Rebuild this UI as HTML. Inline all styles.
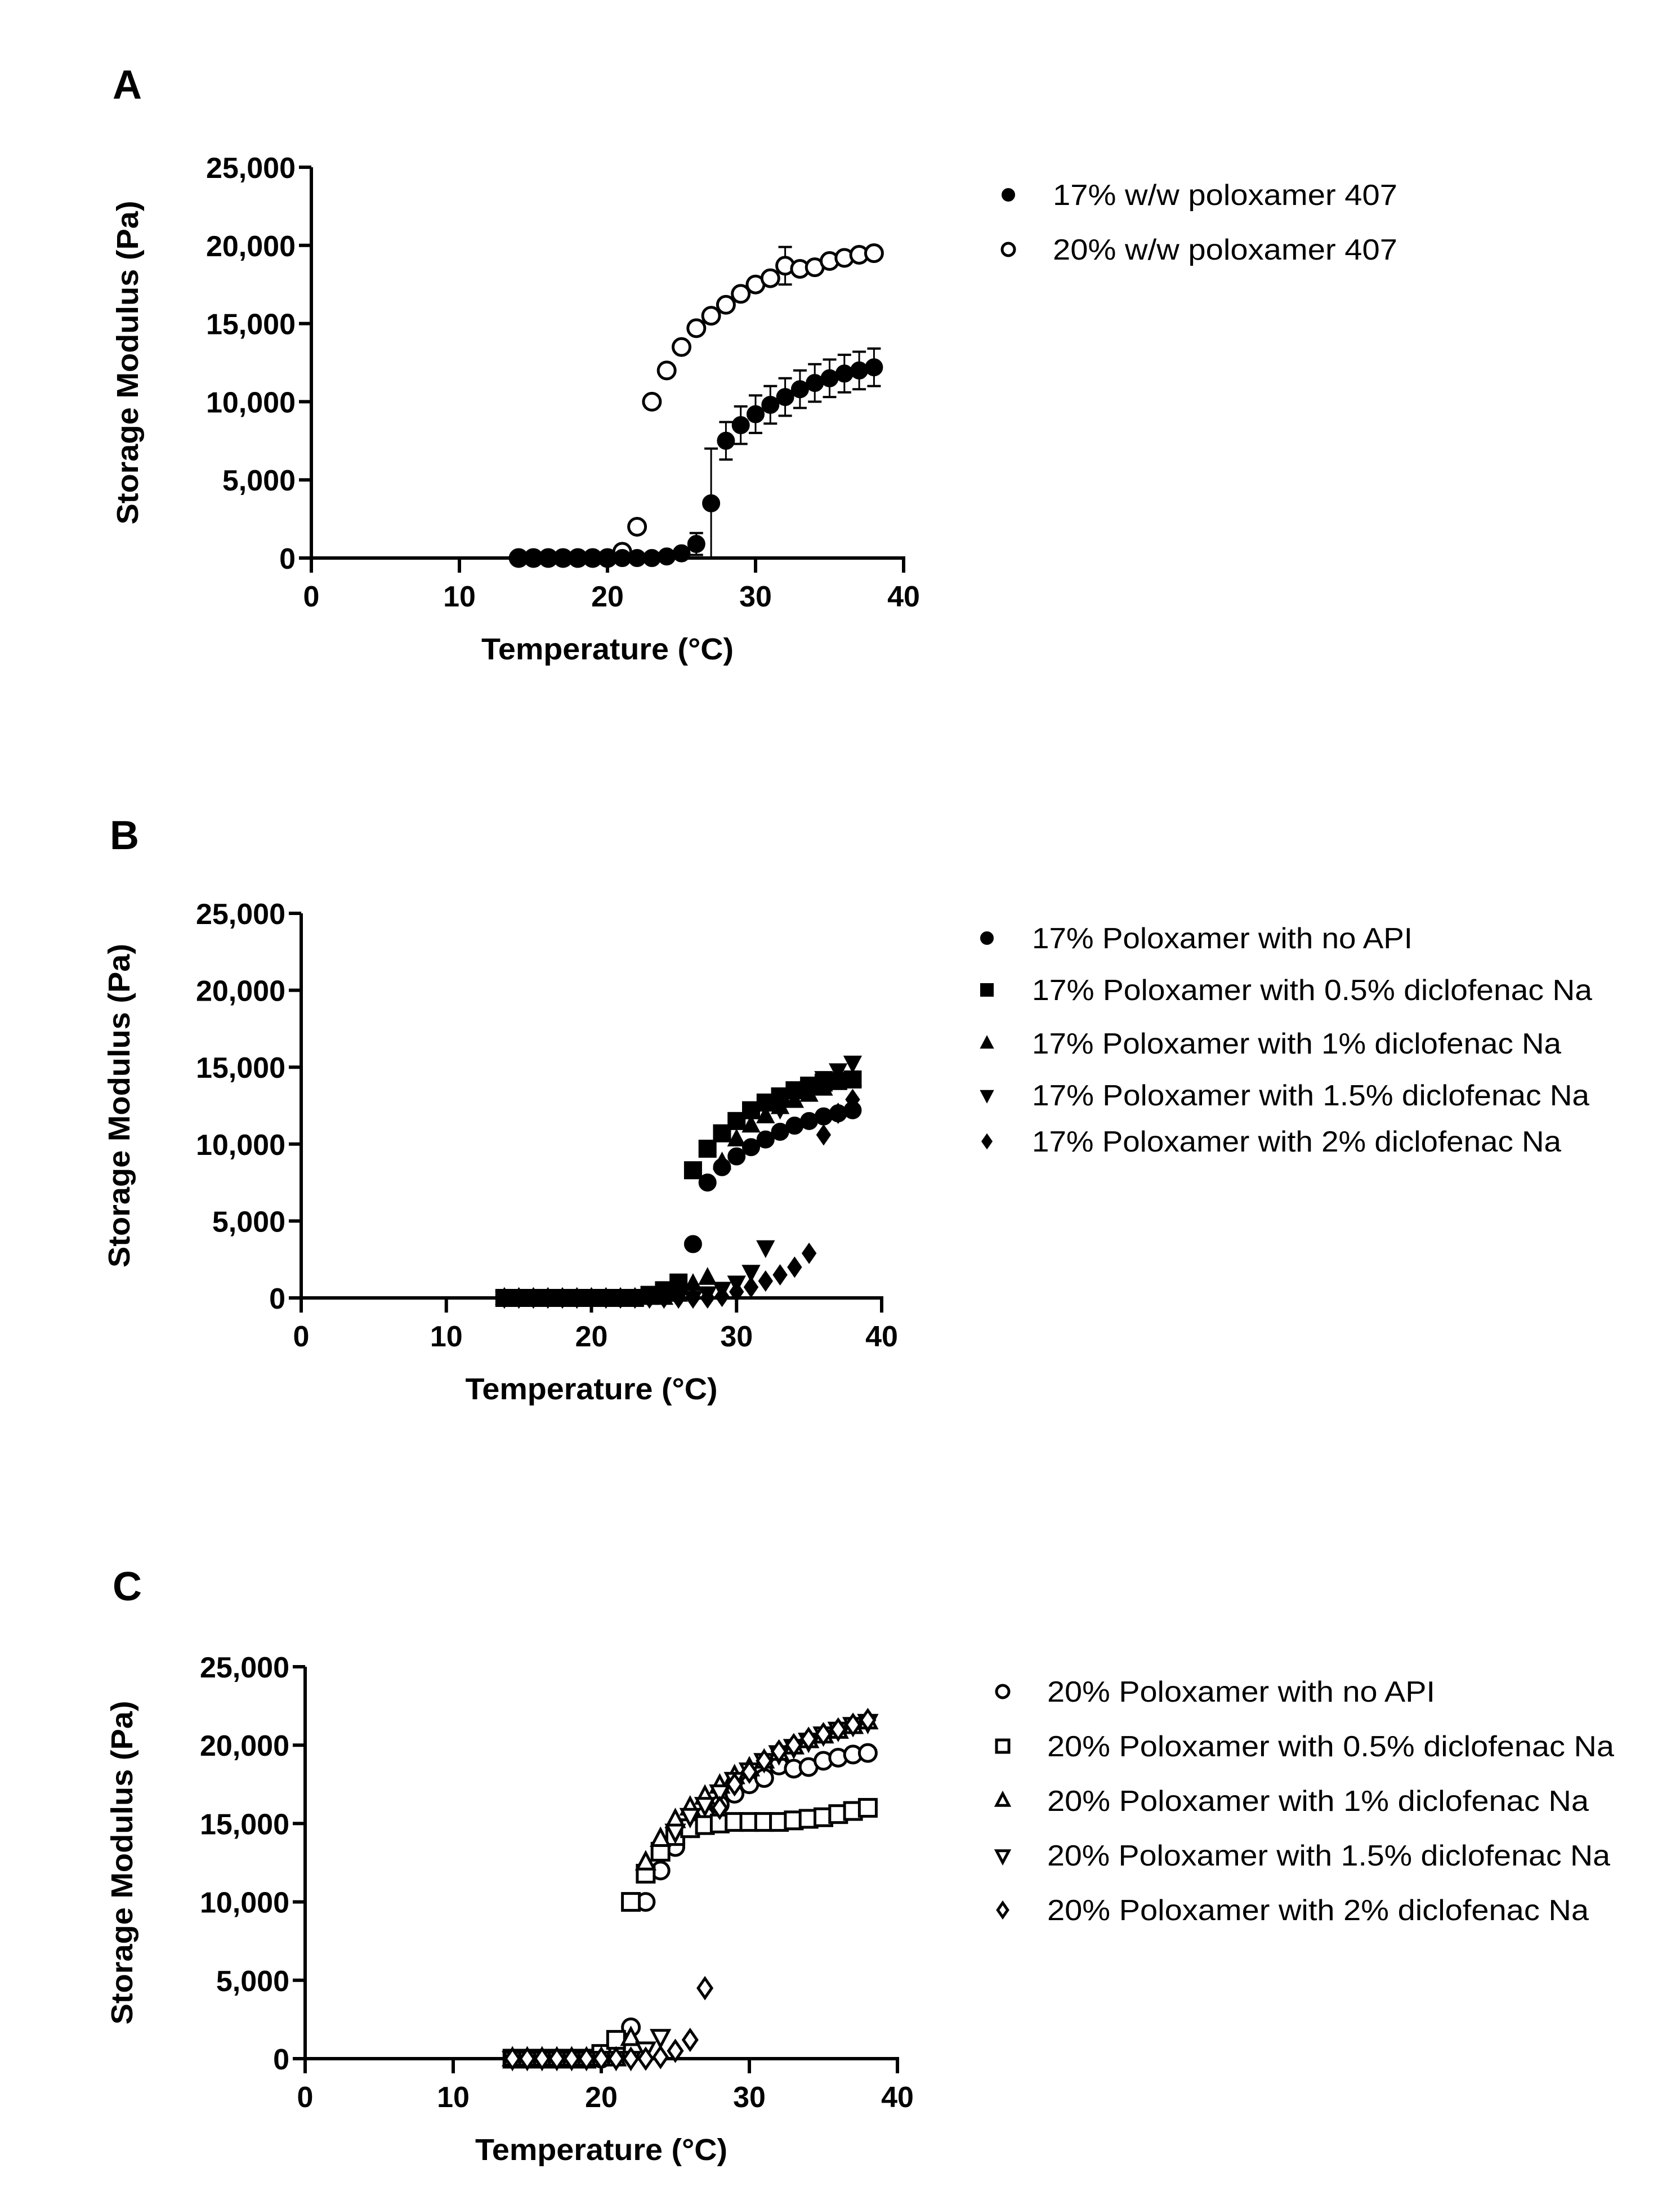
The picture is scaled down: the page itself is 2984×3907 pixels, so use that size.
<!DOCTYPE html>
<html><head><meta charset="utf-8"><style>
html,body{margin:0;padding:0;background:#fff;}
svg{display:block;}
text{font-family:"Liberation Sans",Arial,sans-serif;fill:#000;}
</style></head><body>
<svg id="fig" width="2984" height="3907" viewBox="0 0 2984 3907" xmlns="http://www.w3.org/2000/svg">
<rect width="2984" height="3907" fill="#fff"/>
</svg>
<script>
// ---------- data ----------
const temps = [14,15,16,17,18,19,20,21,22,23,24,25,26,27,28,29,30,31,32,33,34,35,36,37,38];
const yTicks = [0,5000,10000,15000,20000,25000];
const yTickLabels = ["0","5,000","10,000","15,000","20,000","25,000"];
const xTicks = [0,10,20,30,40];
const xTickLabels = ["0","10","20","30","40"];

const p17 = [0,0,0,0,0,0,0,0,0,0,100,300,900,3500,7500,8500,9200,9800,10300,10800,11200,11500,11800,12000,12200];
const p17err = [0,0,0,0,0,0,0,0,0,0,100,200,700,3500,1200,1200,1200,1200,1200,1200,1200,1200,1200,1200,1200];
const p20 = [0,0,0,0,0,0,0,400,2000,10000,12000,13500,14700,15500,16200,16900,17500,17900,18700,18500,18600,19000,19200,19400,19500];
const p20err = [0,0,0,0,0,0,0,0,0,0,0,0,0,0,300,400,400,400,1200,300,300,300,300,300,300];

const b05 = [0,0,0,0,0,0,0,0,0,0,200,500,1000,8300,9700,10700,11500,12200,12700,13100,13500,13800,14000,14100,14200];
const b10 = [0,0,0,0,0,0,0,0,0,0,0,0,200,900,1300,8800,10300,11200,11800,12400,12800,13200,13600,14000,14200];
const b15 = [0,0,0,0,0,0,0,0,0,0,0,0,0,0,300,600,1000,1700,3300,12300,13200,13700,14300,14800,15300];
const b20 = [0,0,0,0,0,0,0,0,0,0,0,0,0,0,0,100,400,700,1100,1500,2000,2900,10600,12000,12900];

const c05 = [0,0,0,0,0,0,300,1200,10000,11800,13200,14200,14700,14900,15000,15100,15100,15100,15100,15200,15300,15400,15600,15800,16000];
const c10 = [0,0,0,0,0,0,0,0,1300,12500,14000,15200,16000,16700,17400,18000,18500,19000,19500,19900,20300,20600,20900,21200,21500];
const c15 = [0,0,0,0,0,0,0,0,0,600,1400,14500,15500,16200,17000,17800,18400,19000,19500,19900,20300,20700,21000,21300,21500];
const c20 = [0,0,0,0,0,0,0,0,0,0,100,500,1200,4500,16000,17500,18300,19000,19600,20000,20400,20700,21000,21300,21600];

const legendA = ["17% w/w poloxamer 407","20% w/w poloxamer 407"];
const legendB = ["17% Poloxamer with no API","17% Poloxamer with 0.5% diclofenac Na","17% Poloxamer with 1% diclofenac Na","17% Poloxamer with 1.5% diclofenac Na","17% Poloxamer with 2% diclofenac Na"];
const legendC = ["20% Poloxamer with no API","20% Poloxamer with 0.5% diclofenac Na","20% Poloxamer with 1% diclofenac Na","20% Poloxamer with 1.5% diclofenac Na","20% Poloxamer with 2% diclofenac Na"];

// ---------- drawing ----------
const NS="http://www.w3.org/2000/svg";
const svg=document.getElementById('fig');
function el(tag,attrs,parent){const e=document.createElementNS(NS,tag);for(const k in attrs)e.setAttribute(k,attrs[k]);(parent||svg).appendChild(e);return e;}
function txt(s,attrs,parent){const e=el('text',attrs,parent);e.textContent=s;return e;}

function marker(g,shape,filled,cx,cy,r){
  const fill=filled?'#000':'#fff';const sw=filled?2:5;let m;
  if(shape==='circle'){m=el('circle',{cx:cx,cy:cy,r:r,fill:fill,stroke:'#000','stroke-width':sw},g);}
  else if(shape==='square'){m=el('rect',{x:cx-r,y:cy-r,width:2*r,height:2*r,fill:fill,stroke:'#000','stroke-width':sw},g);}
  else if(shape==='tri'){m=el('polygon',{points:`${cx},${cy-r*1.15} ${cx-r},${cy+r*0.75} ${cx+r},${cy+r*0.75}`,fill:fill,stroke:'#000','stroke-width':sw},g);}
  else if(shape==='dtri'){m=el('polygon',{points:`${cx},${cy+r*1.15} ${cx-r},${cy-r*0.75} ${cx+r},${cy-r*0.75}`,fill:fill,stroke:'#000','stroke-width':sw},g);}
  else {m=el('polygon',{points:`${cx},${cy-r*1.15} ${cx+r*0.8},${cy} ${cx},${cy+r*1.15} ${cx-r*0.8},${cy}`,fill:fill,stroke:'#000','stroke-width':sw},g);}
  return m;
}

function panel(cfg){
  const g=el('g',{});
  
  
  const X=v=>cfg.x0+(v/40)*(cfg.x40-cfg.x0);
  const Y=v=>cfg.y0-(v/25000)*(cfg.y0-cfg.yTop);
  const lt=txt(cfg.id,{x:cfg.letterX,y:cfg.letterY,'font-size':72,'font-weight':'bold'},g);
  
  
  const ax=el('g',{},g);
  
  
  el('line',{x1:X(0),y1:cfg.yTop,x2:X(0),y2:cfg.y0+26,stroke:'#000','stroke-width':6},ax);
  el('line',{x1:X(0)-3,y1:cfg.y0,x2:X(40)+3,y2:cfg.y0,stroke:'#000','stroke-width':6},ax);
  yTicks.forEach((v,i)=>{
    el('line',{x1:X(0)-22,y1:Y(v),x2:X(0),y2:Y(v),stroke:'#000','stroke-width':6},ax);
    const t=txt(yTickLabels[i],{x:X(0)-28,y:Y(v)+19,'font-size':52,'font-weight':'bold','text-anchor':'end'},ax);
    
    
  });
  xTicks.forEach((v,i)=>{
    el('line',{x1:X(v),y1:cfg.y0,x2:X(v),y2:cfg.y0+26,stroke:'#000','stroke-width':6},ax);
    const t=txt(xTickLabels[i],{x:X(v),y:cfg.y0+86,'font-size':52,'font-weight':'bold','text-anchor':'middle'},ax);
    
    
  });
  const xt=txt('Temperature (°C)',{x:(X(0)+X(40))/2,y:cfg.y0+180,'font-size':54,'font-weight':'bold','text-anchor':'middle',textLength:448,lengthAdjust:'spacingAndGlyphs'},ax);
  
  
  const yc=(cfg.y0+cfg.yTop)/2;
  const yt=txt('Storage Modulus (Pa)',{x:0,y:0,transform:`translate(${cfg.yTitleX},${yc}) rotate(-90)`,'font-size':54,'font-weight':'bold','text-anchor':'middle',textLength:575,lengthAdjust:'spacingAndGlyphs'},ax);
  
  
  const order=cfg.drawOrder||cfg.series.map((s,i)=>i);
  order.forEach(si=>{
    const s=cfg.series[si];
    const sg=el('g',{},g);
    
    
    if(s.err){
      temps.forEach((t,i)=>{
        const e=s.err[i]; if(!e) return;
        const cx=X(t);
        const lo=Math.max(0,s.vals[i]-e);
        el('line',{x1:cx,y1:Y(s.vals[i]+e),x2:cx,y2:Y(lo),stroke:'#000','stroke-width':3},sg);
        el('line',{x1:cx-12,y1:Y(s.vals[i]+e),x2:cx+12,y2:Y(s.vals[i]+e),stroke:'#000','stroke-width':4},sg);
        if(lo>0) el('line',{x1:cx-12,y1:Y(lo),x2:cx+12,y2:Y(lo),stroke:'#000','stroke-width':4},sg);
      });
    }
    temps.forEach((t,i)=>{
      const m=marker(sg,s.shape,s.filled,X(t),Y(s.vals[i]),15);
      
      
    });
  });
  const lg=el('g',{},g);
  
  
  cfg.legend.forEach((lab,i)=>{
    const s=cfg.series[i];
    const y=cfg.legY[i];
    const le=el('g',{},lg);
    
    
    marker(le,s.shape,s.filled,cfg.legMX,y,11);
    txt(lab,{x:cfg.legTX,y:y+18,'font-size':52,textLength:cfg.legW[i],lengthAdjust:'spacingAndGlyphs'},le);
  });
}

const wA=[612,612];
const wB=[676,995,940,990,940];
const wC=[689,1007,962,1000,962];

panel({id:'A',letterX:200,letterY:175,x0:553,x40:1605,y0:991,yTop:297,yTitleX:245,
  series:[{name:'17pct',vals:p17,err:p17err,shape:'circle',filled:true},{name:'20pct',vals:p20,err:p20err,shape:'circle',filled:false}],
  drawOrder:[1,0],
  legend:legendA,legY:[346,443],legMX:1791,legTX:1870,legW:wA});
panel({id:'B',letterX:195,letterY:1508,x0:535,x40:1566,y0:2305,yTop:1622,yTitleX:230,
  series:[{name:'no-api',vals:p17,shape:'circle',filled:true},{name:'0.5pct',vals:b05,shape:'square',filled:true},{name:'1pct',vals:b10,shape:'tri',filled:true},{name:'1.5pct',vals:b15,shape:'dtri',filled:true},{name:'2pct',vals:b20,shape:'diamond',filled:true}],
  legend:legendB,legY:[1666,1758,1853,1945,2027],legMX:1753,legTX:1833,legW:wB});
panel({id:'C',letterX:200,letterY:2842,x0:542,x40:1594,y0:3656,yTop:2960,yTitleX:235,
  series:[{name:'no-api',vals:p20,shape:'circle',filled:false},{name:'0.5pct',vals:c05,shape:'square',filled:false},{name:'1pct',vals:c10,shape:'tri',filled:false},{name:'1.5pct',vals:c15,shape:'dtri',filled:false},{name:'2pct',vals:c20,shape:'diamond',filled:false}],
  legend:legendC,legY:[3004,3101,3198,3295,3392],legMX:1781,legTX:1860,legW:wC});
</script>
</body></html>
